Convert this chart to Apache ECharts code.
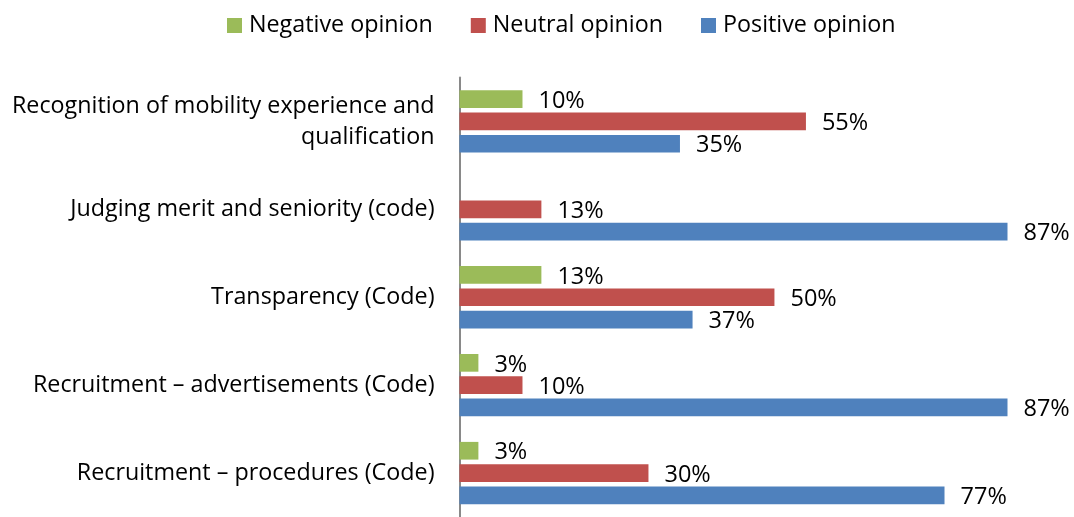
<!DOCTYPE html>
<html><head><meta charset="utf-8">
<script src="https://cdn.jsdelivr.net/npm/echarts@6/dist/echarts.min.js"></script>
<style>html,body{margin:0;padding:0;background:#fff}#c{width:1074px;height:517px}</style>
</head><body><div id="c"></div>
<script>
var categories = [
  "Recognition of mobility experience and\nqualification",
  "Judging merit and seniority (code)",
  "Transparency (Code)",
  "Recruitment \u2013 advertisements (Code)",
  "Recruitment \u2013 procedures (Code)"
];
var negative = [10, null, 13, 3, 3];
var neutral = [55, 13, 50, 10, 30];
var positive = [35, 87, 37, 87, 77];
var seriesNames = ["Negative opinion", "Neutral opinion", "Positive opinion"];
var colors = ["#9BBB59", "#C0504D", "#4F81BD"];

var FONT = "Open Sans";
var chart = echarts.init(document.getElementById('c'), null, {renderer: 'canvas'});
function mk(name, data, color) {
  return {
    name: name, type: 'bar', data: data,
    barWidth: 17.7, barGap: '26%',
    itemStyle: {color: color},
    label: {show: true, position: 'right', distance: 16, offset: [0, 2],
      formatter: '{c}%', color: '#000', fontFamily: FONT, fontSize: 23.5},
    emphasis: {disabled: true}, animation: false
  };
}
chart.setOption({
  animation: false,
  textStyle: {fontFamily: FONT},
  color: colors,
  legend: {
    top: 9, left: 222, itemWidth: 15, itemHeight: 15, itemGap: 38,
    icon: 'rect',
    textStyle: {fontFamily: FONT, fontSize: 23.3, color: '#000', padding: [0, 0, 0, 2]},
    data: seriesNames
  },
  grid: {left: 459.5, top: 77.5, width: 548, height: 447.5, containLabel: false},
  xAxis: {type: 'value', min: 0, max: 87, show: false, splitLine: {show: false}},
  yAxis: {
    type: 'category', data: categories, inverse: true,
    axisLine: {show: true, lineStyle: {color: '#898989', width: 2}},
    axisTick: {show: false},
    axisLabel: {margin: 25, fontFamily: FONT, fontSize: 23.3, color: '#000', align: 'right', lineHeight: 31}
  },
  series: [
    mk(seriesNames[0], negative, colors[0]),
    mk(seriesNames[1], neutral, colors[1]),
    mk(seriesNames[2], positive, colors[2])
  ]
});
</script></body></html>
